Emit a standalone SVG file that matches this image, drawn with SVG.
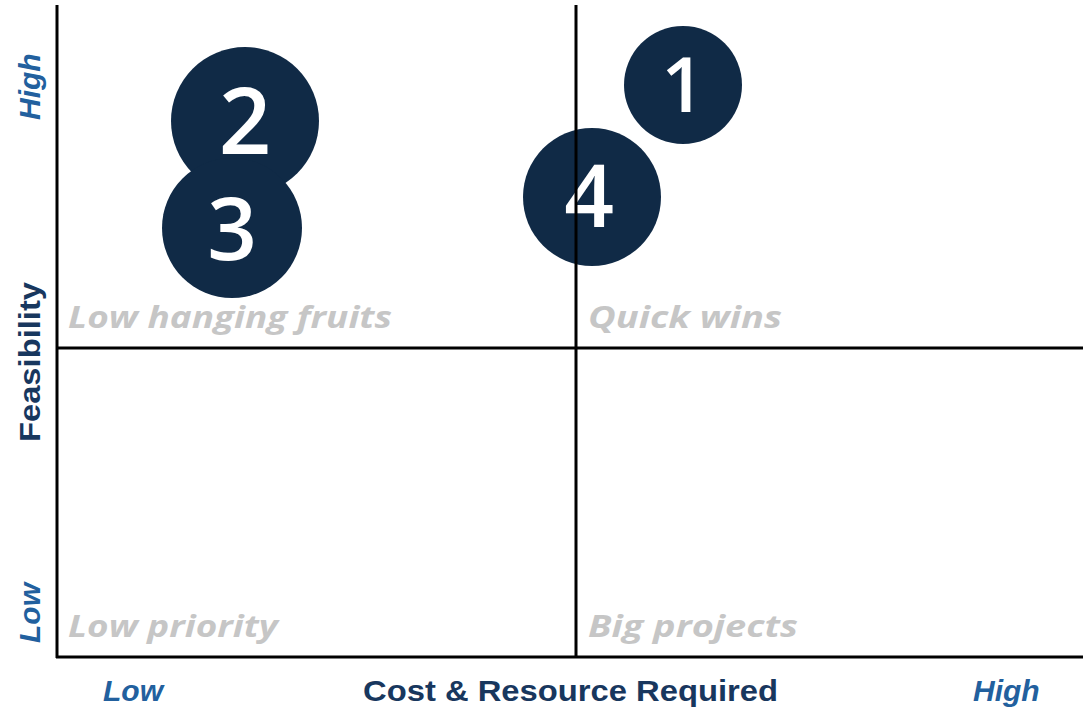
<svg xmlns="http://www.w3.org/2000/svg" width="1083" height="708" viewBox="0 0 1083 708">
<style>
.ax{stroke:#000;stroke-width:3;fill:none}
.bub{fill:#102a46}
.num{fill:#fff;font-family:"Open Sans","Noto Sans",sans-serif;font-weight:600;text-anchor:middle}
.quad{fill:#c6c6c6;font-family:"Open Sans","Liberation Sans",sans-serif;font-weight:bold;font-style:italic;font-size:31px}
.title{fill:#18375e;font-family:"Liberation Sans",Arial,sans-serif;font-weight:bold;font-size:30px}
.lvl{fill:#22609e;font-family:"Liberation Sans",Arial,sans-serif;font-weight:bold;font-style:italic;font-size:30px}
</style>
<rect width="1083" height="708" fill="#fff"/>
<g id="bubble-2"><circle class="bub" cx="245" cy="121" r="74"/><text class="num" x="245" y="154" font-size="92">2</text></g>
<g id="bubble-3"><circle class="bub" cx="232" cy="228" r="70"/><text class="num" x="232" y="260" font-size="87">3</text></g>
<g id="bubble-1"><circle class="bub" cx="683" cy="85" r="59"/><text class="num" x="683" y="112" font-size="76">1</text></g>
<g id="bubble-4"><circle class="bub" cx="592" cy="197" r="69"/><text class="num" x="589" y="227" font-size="87">4</text></g>
<g id="connectors">
<line class="ax" x1="57" y1="5" x2="57" y2="658"/>
<line class="ax" x1="56" y1="657" x2="1083" y2="657"/>
<line class="ax" x1="576" y1="5" x2="576" y2="657"/>
<line class="ax" x1="57" y1="348" x2="1083" y2="348"/>
</g>
<g id="quadrant-labels">
<text class="quad" x="68" y="328" textLength="324" lengthAdjust="spacingAndGlyphs">Low hanging fruits</text>
<text class="quad" x="588" y="328" textLength="194" lengthAdjust="spacingAndGlyphs">Quick wins</text>
<text class="quad" x="68" y="637" textLength="210" lengthAdjust="spacingAndGlyphs">Low priority</text>
<text class="quad" x="588" y="637" textLength="210" lengthAdjust="spacingAndGlyphs">Big projects</text>
</g>
<g id="x-axis-labels">
<text class="title" x="363" y="701" textLength="415" lengthAdjust="spacingAndGlyphs">Cost &amp; Resource Required</text>
<text class="lvl" x="103" y="701">Low</text>
<text class="lvl" x="973" y="701">High</text>
</g>
<g id="y-axis-labels">
<text class="title" transform="translate(40,442) rotate(-90)" textLength="160" lengthAdjust="spacingAndGlyphs">Feasibility</text>
<text class="lvl" transform="translate(40,120) rotate(-90)">High</text>
<text class="lvl" transform="translate(40,643) rotate(-90)">Low</text>
</g>
</svg>
